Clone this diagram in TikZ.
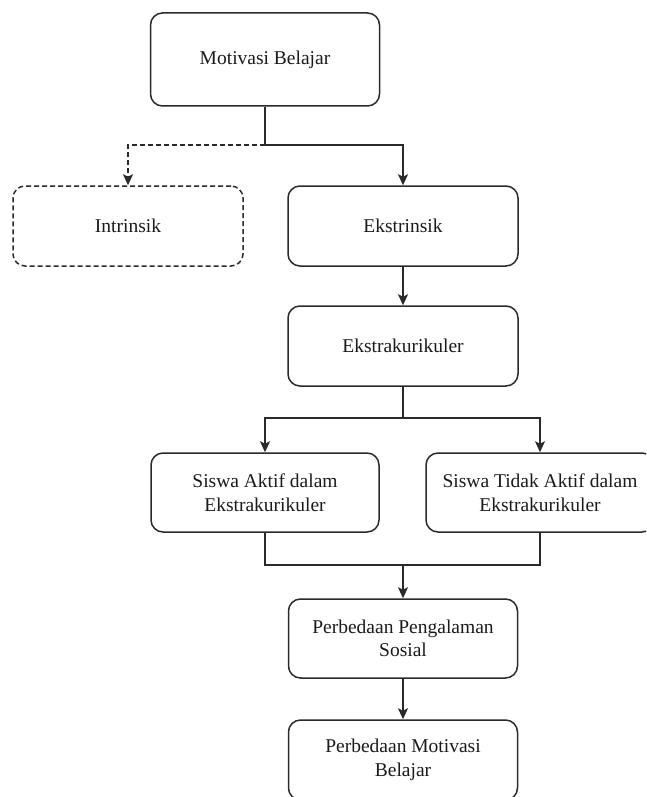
\documentclass[tikz,border=0pt]{standalone}
\usepackage{fontspec}
\setmainfont{Liberation Serif}
\usetikzlibrary{arrows.meta}
\definecolor{ln}{HTML}{2a2a2a}
\definecolor{tx}{HTML}{1a1a1a}
\tikzset{
  box/.style={draw=ln, line width=1.5pt, rounded corners=12pt, align=center,
    text=tx, font=\fontsize{19.5}{23.5}\selectfont, inner sep=0pt},
  dbox/.style={box, dash pattern=on 5pt off 3pt},
  arr/.style={draw=ln, line width=1.5pt, -{Stealth[length=11pt,width=10pt,inset=2.5pt]}},
  ln/.style={draw=ln, line width=1.5pt},
}
\begin{document}
\begin{tikzpicture}[x=1pt,y=-1pt]
\useasboundingbox (0,0) rectangle (646,797);
\begin{scope}
\clip (0,0) rectangle (646,797);
\node[box, minimum width=229pt, minimum height=93pt] (M) at (265,59.5) {Motivasi Belajar};
\node[dbox, minimum width=230pt, minimum height=80pt] (I) at (128,226) {Intrinsik};
\node[box, minimum width=230pt, minimum height=80pt] (E) at (403,226) {Ekstrinsik};
\node[box, minimum width=230pt, minimum height=80pt] (K) at (403,346) {Ekstrakurikuler};
\node[box, minimum width=228pt, minimum height=79pt] (SA) at (265,492.5) {Siswa Aktif dalam\\Ekstrakurikuler};
\node[box, minimum width=228pt, minimum height=79pt] (ST) at (540,492.5) {Siswa Tidak Aktif dalam\\Ekstrakurikuler};
\node[box, minimum width=229pt, minimum height=79pt] (PP) at (403,638.5) {Perbedaan Pengalaman\\Sosial};
\node[box, minimum width=229pt, minimum height=80pt] (PM) at (403,760) {Perbedaan Motivasi\\Belajar};

\coordinate (j1) at (M.south |- 0,145);
\coordinate (j2) at (K.south |- 0,418);
\coordinate (j3) at (SA.south |- 0,565);
\coordinate (j4) at (ST.south |- 0,565);
\coordinate (j5) at (PP.north |- 0,565);

\draw[ln] (M.south) -- (j1);
\draw[arr] (j1) -| (E.north);
\draw[arr, dash pattern=on 5pt off 3pt] (j1) -| (I.north);
\draw[arr] (E.south) -- (K.north);
\draw[ln] (K.south) -- (j2);
\draw[arr] (j2) -| (SA.north);
\draw[arr] (j2) -| (ST.north);
\draw[ln] (SA.south) -- (j3) -- (j4) -- (ST.south);
\draw[arr] (j5) -- (PP.north);
\draw[arr] (PP.south) -- (PM.north);
\end{scope}
\end{tikzpicture}
\end{document}
